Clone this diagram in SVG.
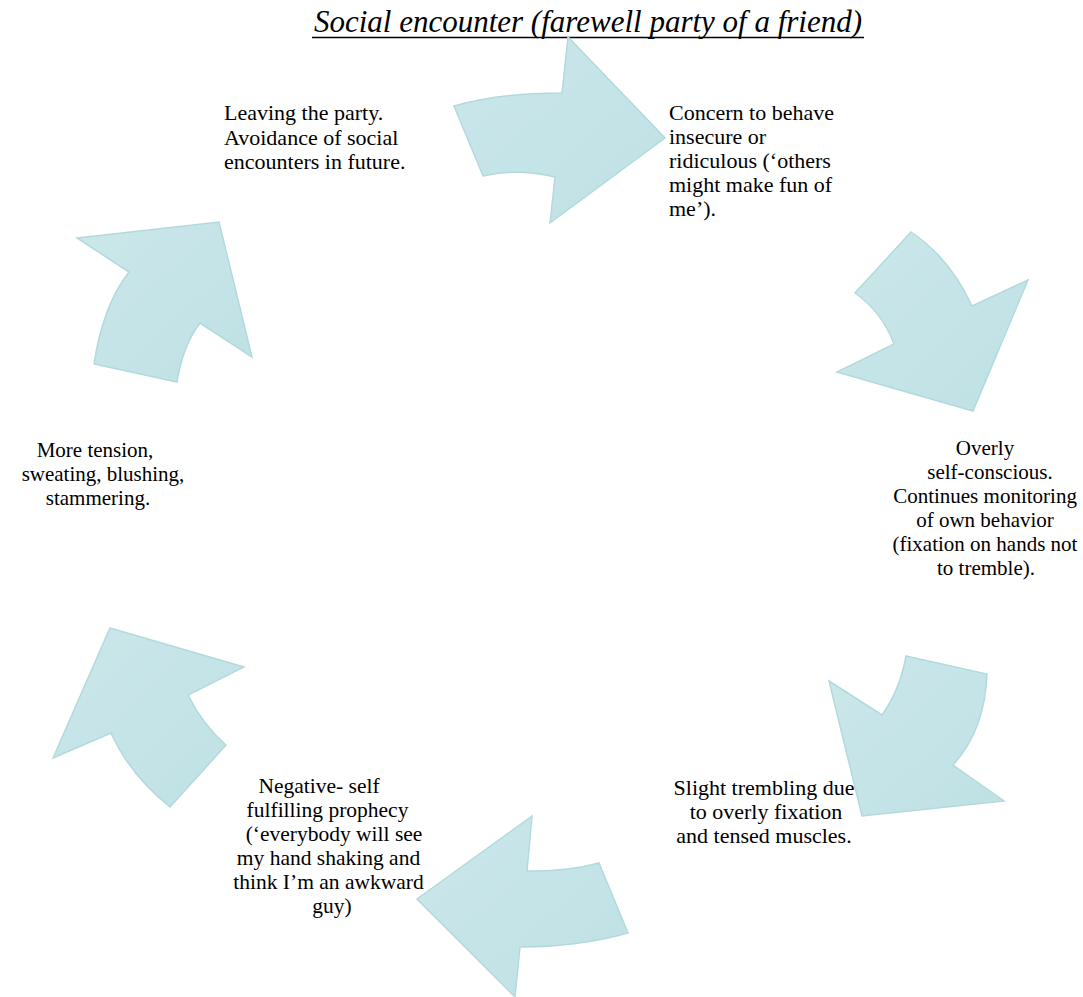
<svg xmlns="http://www.w3.org/2000/svg" width="1083" height="997" viewBox="0 0 1083 997">
<style>
  .arrow { fill: url(#g); stroke: #b2dadd; stroke-width: 1.5; stroke-linejoin: miter; }
  .t { font-family: 'Liberation Serif', 'Times New Roman', serif; font-size: 21px; fill: #000; }
  .c { text-anchor: middle; }
  .s22 { font-size: 22px; }
  .s215 { font-size: 21.5px; }
  .title { font-family: 'Liberation Serif', 'Times New Roman', serif; font-size: 31px; font-style: italic; fill: #000; text-anchor: middle; }
</style>
<defs>
  <linearGradient id="g" x1="0" y1="0" x2="1" y2="1">
    <stop offset="0" stop-color="#cbe7ea"/>
    <stop offset="1" stop-color="#bfe1e4"/>
  </linearGradient>
</defs>
<rect width="1083" height="997" fill="#fff"/>
<g id="title">
  <text class="title" x="588" y="32">Social encounter (farewell party of a friend)</text>
  <line x1="312" y1="37.5" x2="864" y2="37.5" stroke="#000" stroke-width="1.6"/>
</g>
<g id="connectors">
  <path class="arrow" d="M454,106 Q500,93 562,93 L568,37 L665,138 L550,223 L555,177 Q518,168 483,176 Z"/>
  <path class="arrow" d="M911,232 Q950,258 972,306 L1028,280 L973,411 L837,372 L894,344 Q882,312 855,293 Z"/>
  <path class="arrow" d="M906,656 L987,674 Q985,730 953,765 L1004,801 L862,816 L829,681 L882,715 Q900,690 906,656 Z"/>
  <path class="arrow" d="M532,816 L527,871 Q565,872 599,863 L628,933 Q578,947 520,947 L515,997 L417,899 Z"/>
  <path class="arrow" d="M110,628 L244,667 L188,695 Q203,725 226,745 L170,807 Q130,775 111,733 L53,758 Z"/>
  <path class="arrow" d="M77,238 L219,222 L252,357 L200,323 Q183,345 177,382 L94,364 Q103,305 129,272 Z"/>
</g>
<g id="node-leaving">
  <text class="t s22" x="224" y="120">Leaving the party.</text>
  <text class="t s22" x="224" y="144.5">Avoidance of social</text>
  <text class="t s22" x="224" y="169">encounters in future.</text>
</g>
<g id="node-concern">
  <text class="t s22" x="669" y="120">Concern to behave</text>
  <text class="t s22" x="669" y="144">insecure or</text>
  <text class="t s22" x="669" y="168">ridiculous (‘others</text>
  <text class="t s22" x="669" y="192">might make fun of</text>
  <text class="t s22" x="669" y="216">me’).</text>
</g>
<g id="node-overly">
  <text class="t c" x="985" y="455">Overly</text>
  <text class="t c" x="990" y="479">self-conscious.</text>
  <text class="t c" x="985" y="503">Continues monitoring</text>
  <text class="t c" x="985" y="527">of own behavior</text>
  <text class="t c" x="985" y="551">(fixation on hands not</text>
  <text class="t c" x="986" y="575">to tremble).</text>
</g>
<g id="node-trembling">
  <text class="t c s22" x="764" y="795">Slight trembling due</text>
  <text class="t c s22" x="766" y="819">to overly fixation</text>
  <text class="t c s22" x="764" y="843">and tensed muscles.</text>
</g>
<g id="node-negative">
  <text class="t c s215" x="319" y="793">Negative- self</text>
  <text class="t c s215" x="327.5" y="817">fulfilling prophecy</text>
  <text class="t c s215" x="334" y="841">(‘everybody will see</text>
  <text class="t c s215" x="328.5" y="865">my hand shaking and</text>
  <text class="t c s215" x="328.5" y="889">think I’m an awkward</text>
  <text class="t c s215" x="332" y="913">guy)</text>
</g>
<g id="node-tension">
  <text class="t c" x="95" y="457">More tension,</text>
  <text class="t c" x="103" y="481">sweating, blushing,</text>
  <text class="t c" x="98" y="505">stammering.</text>
</g>
</svg>
